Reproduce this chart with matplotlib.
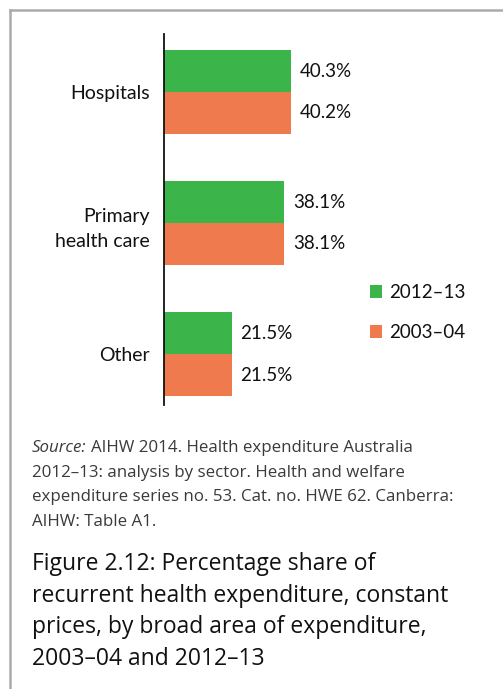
import matplotlib
matplotlib.use("Agg")
import numpy as np
import matplotlib.pyplot as plt
from matplotlib.lines import Line2D

# Share of recurrent health expenditure (%), constant prices
categories = ["Hospitals", "Primary\nhealth care", "Other"]
share_2012_13 = [40.3, 38.1, 21.5]
share_2003_04 = [40.2, 38.1, 21.5]
series_labels = ["2012\u201313", "2003\u201304"]

source_lines = [
    "AIHW 2014. Health expenditure Australia",
    "2012\u201313: analysis by sector. Health and welfare",
    "expenditure series no. 53. Cat. no. HWE 62. Canberra:",
    "AIHW: Table A1.",
]
title_lines = [
    "Figure 2.12: Percentage share of",
    "recurrent health expenditure, constant",
    "prices, by broad area of expenditure,",
    "2003\u201304 and 2012\u201313",
]

GREEN = "#3bb54a"
ORANGE = "#ef7a4e"
W, H = 503, 689


def px_x(x):
    return x / W


def px_y(y):
    return 1 - y / H


fig = plt.figure(figsize=(W / 100, H / 100), dpi=100)

# frame around the panel (left and top edges only are visible)
fig.add_artist(Line2D([px_x(9.5), px_x(9.5)], [px_y(10), 0], color="#ababab", lw=1.8))
fig.add_artist(Line2D([px_x(9.5), 1], [px_y(10), px_y(10)], color="#ababab", lw=1.8))

ax = fig.add_axes([px_x(164), px_y(405), px_x(316), (405 - 34) / H])

y = np.arange(len(categories))
bar_h = 0.32
b1 = ax.barh(y - bar_h / 2, share_2012_13, height=bar_h, color=GREEN, label=series_labels[0])
b2 = ax.barh(y + bar_h / 2, share_2003_04, height=bar_h, color=ORANGE, label=series_labels[1])

label_font = dict(family="Lato", size=13.5, color="#111111")
for bars in (b1, b2):
    ax.bar_label(bars, labels=[f"{v:.1f}%" for v in bars.datavalues], padding=6, **label_font)

ax.set_xlim(0, 100)
ax.set_ylim(2.389, -0.443)
ax.set_yticks(y)
ax.set_yticklabels(categories, family="Lato", fontsize=14, color="#111111", linespacing=1.6)
ax.tick_params(axis="y", length=0, pad=10)
ax.set_xticks([])
for side in ("top", "right", "bottom"):
    ax.spines[side].set_visible(False)
ax.spines["left"].set_linewidth(1.3)
ax.spines["left"].set_color("#111111")

leg = fig.legend(handles=[b1, b2], loc="upper left",
                 bbox_to_anchor=(px_x(353), px_y(267)), frameon=False,
                 prop=dict(family="Lato", size=13.5), handlelength=0.65, handleheight=0.65,
                 handletextpad=0.4, labelspacing=1.25)
for t in leg.get_texts():
    t.set_color("#111111")

# source note, with the leading word in italics
src_font = dict(family="Open Sans", size=12.2, color="#3a3a3a")
x0 = px_x(32)
first = fig.text(x0, px_y(452), "Source:", style="italic", va="baseline", **src_font)
fig.canvas.draw()
bb = first.get_window_extent(renderer=fig.canvas.get_renderer())
fig.text((bb.x1 + 4) / W, px_y(452), source_lines[0], va="baseline", **src_font)
for i, line in enumerate(source_lines[1:], start=1):
    fig.text(x0, px_y(452 + 24.7 * i), line, va="baseline", **src_font)

for i, line in enumerate(title_lines):
    fig.text(x0, px_y(570 + 31.7 * i), line, va="baseline",
             family="Open Sans", size=16.5, color="#111111")

fig.savefig("out.png", dpi=100)
